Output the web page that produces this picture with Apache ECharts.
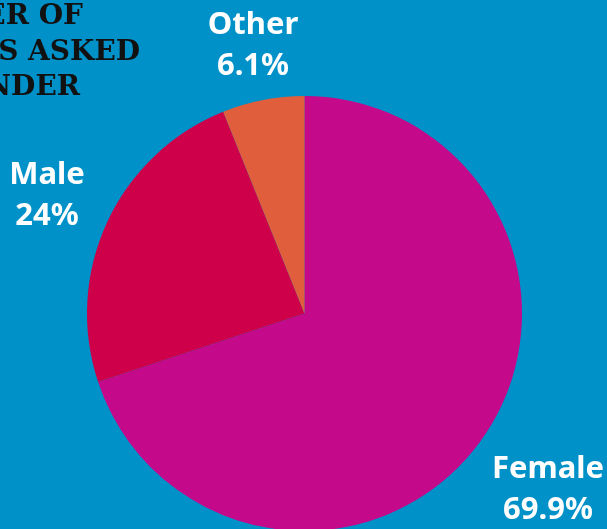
<!DOCTYPE html>
<html><head><meta charset="utf-8">
<script src="https://cdn.jsdelivr.net/npm/echarts@6/dist/echarts.min.js"></script>
<style>html,body{margin:0;padding:0;background:#0091C9;}#c{width:607px;height:529px;}</style>
</head><body><div id="c"></div>
<script>
const categories = ['Female', 'Male', 'Other'];
const values = [69.9, 24, 6.1];
const colors = ['#C4098B', '#CF004A', '#E05E3C'];
const titleLines = ['NUMBER OF', 'QUESTIONS ASKED', 'BY GENDER'];
const labelPos = [[548, 490], [47, 196], [253, 46]];

const chart = echarts.init(document.getElementById('c'));
chart.setOption({
  backgroundColor: '#0091C9',
  animation: false,
  graphic: titleLines.map((t, i) => ({
    type: 'text',
    right: [524, 467, 527][i],
    top: 3 + i * 35.5,
    style: { text: t, fill: '#111', fontFamily: 'DejaVu Serif', fontWeight: 'bold', fontSize: 28 }
  })),
  series: [{
    type: 'pie',
    center: [304.5, 313.5],
    radius: 217.5,
    startAngle: 90,
    clockwise: true,
    data: categories.map((c, i) => ({ name: c, value: values[i], itemStyle: { color: colors[i] } })),
    label: {
      show: true,
      position: 'outside',
      formatter: p => p.name + '\n' + p.value + '%',
      color: '#fff',
      fontFamily: 'Noto Sans',
      fontWeight: 'bold',
      fontSize: 31,
      lineHeight: 41,
      align: 'center',
      overflow: 'none'
    },
    labelLine: { show: false },
    labelLayout: p => ({ x: labelPos[p.dataIndex][0], y: labelPos[p.dataIndex][1], align: 'center', verticalAlign: 'middle', moveOverlap: false })
  }]
});
</script></body></html>
